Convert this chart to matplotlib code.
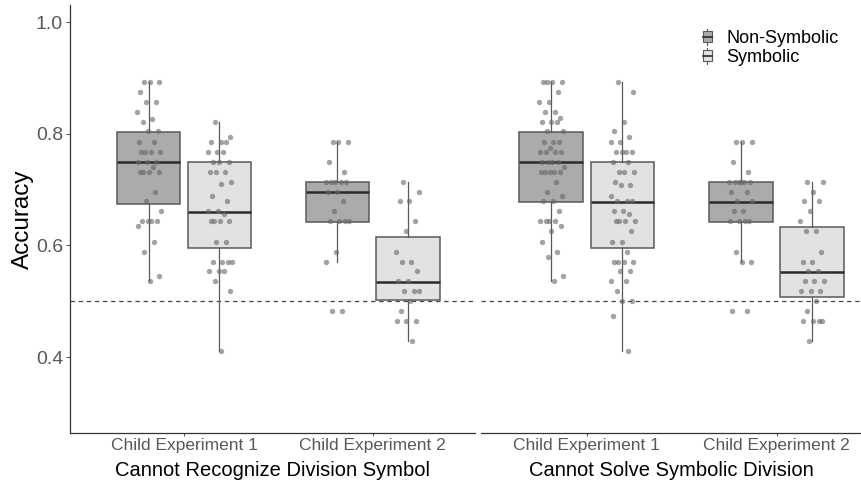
import matplotlib
matplotlib.use("Agg")
import matplotlib.pyplot as plt
from matplotlib.patches import Rectangle
from matplotlib.lines import Line2D
from matplotlib.legend_handler import HandlerBase

plt.rcParams['font.family'] = ['Liberation Sans', 'DejaVu Sans']

# ---------------- data ----------------
panels = ["Cannot Recognize Division Symbol", "Cannot Solve Symbolic Division"]
experiments = ["Child Experiment 1", "Child Experiment 2"]
conditions = ["Non-Symbolic", "Symbolic"]

# order: P1E1N, P1E1S, P1E2N, P1E2S, P2E1N, P2E1S, P2E2N, P2E2S
box_whislo = [0.536, 0.411, 0.571, 0.429, 0.536, 0.411, 0.571, 0.429]
box_q1     = [0.674, 0.596, 0.642, 0.503, 0.678, 0.596, 0.642, 0.507]
box_med    = [0.749, 0.660, 0.696, 0.534, 0.750, 0.677, 0.678, 0.552]
box_q3     = [0.803, 0.749, 0.714, 0.615, 0.803, 0.749, 0.714, 0.633]
box_whishi = [0.893, 0.821, 0.786, 0.714, 0.893, 0.893, 0.786, 0.714]

p1_e1_nonsym = [0.893, 0.893, 0.893, 0.875, 0.857, 0.857, 0.839, 0.827, 0.821,
                0.804, 0.804, 0.786, 0.786, 0.768, 0.768, 0.768, 0.768, 0.750,
                0.750, 0.750, 0.741, 0.732, 0.732, 0.732, 0.732, 0.696, 0.679,
                0.661, 0.643, 0.643, 0.643, 0.643, 0.634, 0.607, 0.589, 0.546,
                0.536]
p1_e1_sym = [0.821, 0.795, 0.786, 0.786, 0.786, 0.768, 0.768, 0.768, 0.750,
             0.750, 0.750, 0.732, 0.732, 0.732, 0.714, 0.710, 0.689, 0.679,
             0.661, 0.661, 0.657, 0.643, 0.643, 0.643, 0.643, 0.607, 0.607,
             0.571, 0.571, 0.571, 0.571, 0.554, 0.554, 0.554, 0.536, 0.518,
             0.411]
p1_e2_nonsym = [0.786, 0.786, 0.786, 0.750, 0.732, 0.714, 0.714, 0.714, 0.714,
                0.714, 0.696, 0.696, 0.679, 0.661, 0.643, 0.643, 0.643, 0.643,
                0.589, 0.571, 0.482, 0.482]
p1_e2_sym = [0.714, 0.696, 0.679, 0.679, 0.643, 0.625, 0.589, 0.571, 0.571,
             0.554, 0.536, 0.536, 0.518, 0.518, 0.518, 0.500, 0.482, 0.464,
             0.464, 0.464, 0.429]
p2_e1_nonsym = [0.893, 0.893, 0.893, 0.893, 0.875, 0.857, 0.857, 0.839, 0.839,
                0.829, 0.821, 0.821, 0.821, 0.804, 0.804, 0.786, 0.786, 0.786,
                0.775, 0.768, 0.768, 0.768, 0.768, 0.750, 0.750, 0.750, 0.750,
                0.741, 0.732, 0.732, 0.732, 0.732, 0.732, 0.714, 0.696, 0.688,
                0.679, 0.679, 0.661, 0.643, 0.643, 0.643, 0.643, 0.634, 0.625,
                0.607, 0.589, 0.580, 0.546, 0.536]
p2_e1_sym = [0.893, 0.875, 0.821, 0.804, 0.795, 0.786, 0.786, 0.768, 0.768,
             0.768, 0.768, 0.750, 0.750, 0.732, 0.732, 0.732, 0.714, 0.709,
             0.709, 0.688, 0.679, 0.679, 0.679, 0.661, 0.661, 0.657, 0.643,
             0.643, 0.643, 0.643, 0.625, 0.607, 0.607, 0.589, 0.571, 0.571,
             0.571, 0.571, 0.554, 0.554, 0.536, 0.536, 0.518, 0.500, 0.500,
             0.474, 0.411]
p2_e2_nonsym = [0.786, 0.786, 0.786, 0.750, 0.732, 0.714, 0.714, 0.714, 0.714,
                0.714, 0.714, 0.696, 0.696, 0.679, 0.679, 0.661, 0.661, 0.643,
                0.643, 0.643, 0.643, 0.589, 0.571, 0.571, 0.482, 0.482]
p2_e2_sym = [0.714, 0.714, 0.696, 0.679, 0.679, 0.661, 0.643, 0.625, 0.625,
             0.589, 0.571, 0.571, 0.554, 0.554, 0.536, 0.536, 0.536, 0.518,
             0.518, 0.518, 0.500, 0.482, 0.464, 0.464, 0.464, 0.464, 0.429]

points = [p1_e1_nonsym, p1_e1_sym, p1_e2_nonsym, p1_e2_sym,
          p2_e1_nonsym, p2_e1_sym, p2_e2_nonsym, p2_e2_sym]

y_ticks = [0.4, 0.6, 0.8, 1.0]
chance_level = 0.5

# ---------------- style ----------------
fill_colors = {"Non-Symbolic": "#ababab", "Symbolic": "#e2e2e2"}
edge_color = "#5a5a5a"
median_color = "#2b2b2b"
point_color = "#666666"
tick_color = "#595959"

fig = plt.figure(figsize=(8.62, 4.86), dpi=100)
W, H = 862, 486
ax1 = fig.add_axes([70 / W, 1 - 432.5 / H, (475 - 70) / W, (432.5 - 5) / H])
ax2 = fig.add_axes([481.5 / W, 1 - 432.5 / H, (862 - 481.5) / W, (432.5 - 5) / H])
axes = [ax1, ax2]
xlims = [(0.396, 2.542), (0.445, 2.45)]

box_w = 0.335
dodge = 0.1875
jit = 0.065

for p, ax in enumerate(axes):
    ax.set_xlim(*xlims[p])
    ax.set_ylim(0.265, 1.0305)
    ax.axhline(chance_level, color="#444444", lw=0.9, ls=(0, (3.5, 3.0)), zorder=1)
    for e in range(len(experiments)):
        for c, cond in enumerate(conditions):
            k = p * 4 + e * 2 + c
            xpos = (e + 1) + (-dodge if c == 0 else dodge)
            stats = [dict(whislo=box_whislo[k], q1=box_q1[k], med=box_med[k],
                          q3=box_q3[k], whishi=box_whishi[k], fliers=[])]
            ax.bxp(stats, positions=[xpos], widths=box_w, patch_artist=True,
                   showfliers=False, showcaps=False, manage_ticks=False,
                   boxprops=dict(facecolor=fill_colors[cond], edgecolor=edge_color, lw=1.1),
                   whiskerprops=dict(color=edge_color, lw=0.9),
                   medianprops=dict(color=median_color, lw=1.8),
                   zorder=2)
            vals = points[k]
            xs = [xpos + ((i * 0.618034 + 0.31) % 1.0 - 0.5) * 2 * jit for i in range(len(vals))]
            ax.scatter(xs, vals, s=15, color=point_color, alpha=0.6, lw=0, zorder=3)
    ax.set_xticks([1, 2])
    ax.set_xticklabels(experiments, fontsize=12.5, color=tick_color)
    ax.tick_params(axis="x", length=2.5, width=0.6, color="#333333", pad=1.5)
    ax.set_xlabel(panels[p], fontsize=14.5, color="black", labelpad=6)
    for s in ["top", "right"]:
        ax.spines[s].set_visible(False)
    ax.spines["bottom"].set_color("#333333")
    ax.spines["bottom"].set_linewidth(0.9)
    ax.set_facecolor("none")

ax1.set_yticks(y_ticks)
ax1.set_yticklabels(["%.1f" % v for v in y_ticks], fontsize=14, color=tick_color)
ax1.tick_params(axis="y", length=3, width=0.6, color="#333333", pad=2)
ax1.spines["left"].set_color("#333333")
ax1.spines["left"].set_linewidth(0.9)
ax1.set_ylabel("Accuracy", fontsize=17.5, color="black", labelpad=1)

ax2.spines["left"].set_visible(False)
ax2.set_yticks([])


class BoxHandler(HandlerBase):
    def create_artists(self, legend, orig_handle, xdescent, ydescent, width, height, fontsize, trans):
        cx = width / 2 - xdescent
        bw = width * 0.85
        bh = height * 0.8
        by = -ydescent + (height - bh) / 2
        arts = [Line2D([cx, cx], [-ydescent - 1, -ydescent + height + 1], color=edge_color, lw=0.8, transform=trans),
                Rectangle((cx - bw / 2, by), bw, bh, facecolor=orig_handle.get_facecolor(),
                          edgecolor=edge_color, lw=0.8, transform=trans),
                Line2D([cx - bw / 2, cx + bw / 2], [by + bh / 2, by + bh / 2], color=median_color, lw=1.2, transform=trans)]
        return arts


handles = [Rectangle((0, 0), 1, 1, facecolor=fill_colors[c]) for c in conditions]
fig.legend(handles, conditions, handler_map={Rectangle: BoxHandler()},
           loc="upper left", bbox_to_anchor=(702 / W, 1 - 30 / H), frameon=False,
           fontsize=13, handlelength=0.6, handleheight=0.75, handletextpad=0.75,
           labelspacing=0.1, borderpad=0, borderaxespad=0)

fig.savefig("out.png", dpi=100)
